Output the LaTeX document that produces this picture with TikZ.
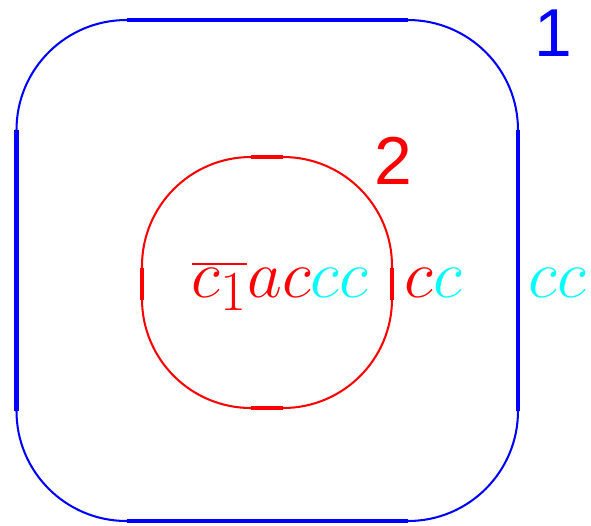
\documentclass[tikz,border=0pt]{standalone}
\usepackage{fontspec}
\newfontfamily\digitfont{Liberation Sans}
\usepackage{tikz}
\definecolor{aqua}{RGB}{0,255,255}

\begin{document}
\begin{tikzpicture}[x=0.129mm,y=-0.129mm,
outerloop/.style={draw=blue,line width=0.75pt,rounded corners=14.19mm},
outerside/.style={draw=blue,line width=1.5pt},
innerloop/.style={draw=red,line width=0.75pt,rounded corners=14.06mm},
innerside/.style={draw=red,line width=1.5pt},
word/.style={inner sep=0pt,anchor=base west,font=\Huge},
tag/.style={inner sep=0pt,font=\Huge\digitfont}
]
\useasboundingbox (0,0) rectangle (591,525);

% outer loop 1
\draw[outerloop] (16.5,20) rectangle (518,521);
\draw[outerside] (126.5,20)--(408,20);
\draw[outerside] (126.5,521)--(408,521);
\draw[outerside] (16.5,130)--(16.5,411);
\draw[outerside] (518,130)--(518,411);

% inner loop 2
\draw[innerloop] (142,157) rectangle (392,408);
\draw[innerside] (251,157)--(283,157);
\draw[innerside] (251,408)--(283,408);
\draw[innerside] (142,268)--(142,300);
\draw[innerside] (392,268)--(392,300);

% words
\node[word,red] (wordin) at (191,297) {$\overline{c_1}ac{\color{aqua}cc}$};
\node[word,red] (wordmid) at (404,297) {$c{\color{aqua}c}$};
\node[word,aqua] (wordout) at (528,297) {$cc$};

% loop numbers
\node[tag,blue] (tag1) at (553,33) {1};
\node[tag,red] (tag2) at (393,161) {2};
\end{tikzpicture}
\end{document}
